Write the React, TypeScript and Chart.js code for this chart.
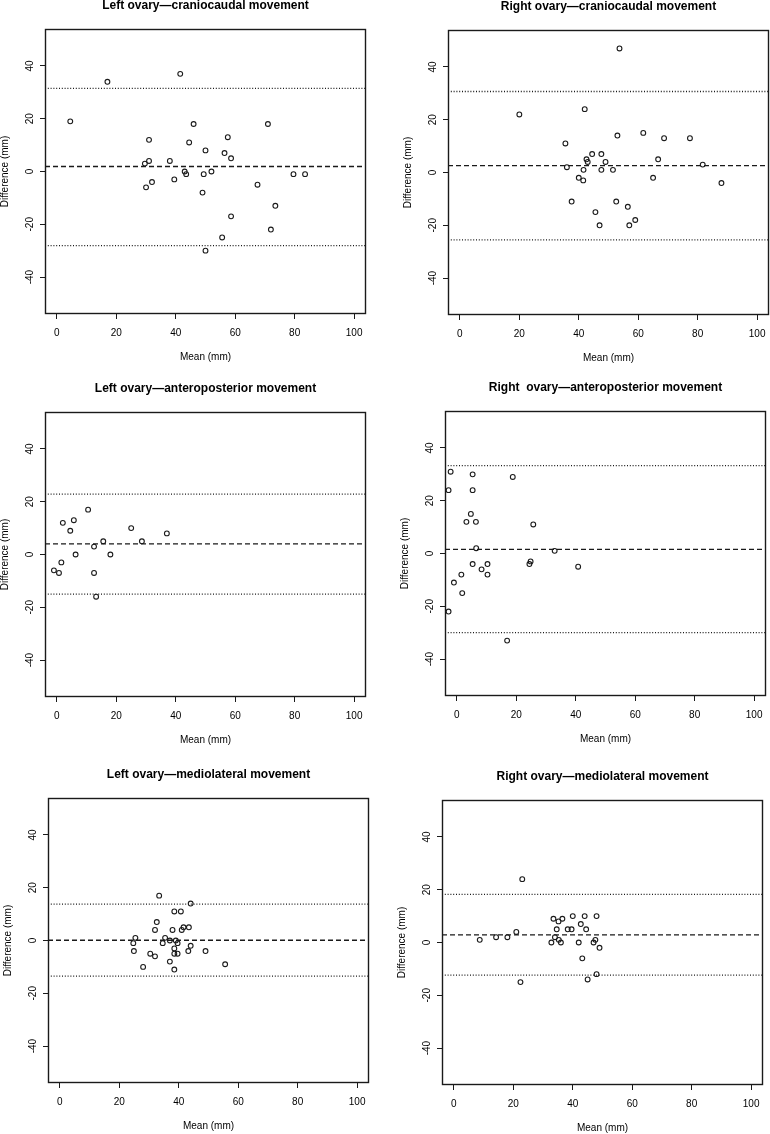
import React, { useEffect, useRef } from "react";
import { Chart, registerables } from "chart.js";

Chart.register(...registerables);

// ---- axis ranges / ticks ----
const X_MIN = -4;
const X_MAX = 104;
const Y_MIN = -54;
const Y_MAX = 54;
const X_STEP = 20;
const Y_STEP = 20;

// ---- Left ovary, craniocaudal ----
const lccMean = [4.5, 17, 41.5, 46, 71, 31, 44.5, 57.5, 50, 56.4, 58.6, 31, 29.6, 38, 43, 43.5, 49.4, 52, 30, 32, 39.5, 49, 67.5, 79.6, 83.5, 73.5, 58.6, 72, 55.6, 50];
const lccDiff = [19, 34, 37, 18, 18, 12, 11, 13, 8, 7, 5, 4, 3, 4, 0, -1, -1, 0, -6, -4, -3, -8, -5, -1, -1, -13, -17, -22, -25, -30];
const lccLimits = [31.5, 1.9, -28.1]; // upper, bias, lower

// ---- Right ovary, craniocaudal ----
const rccMean = [53.7, 20, 42, 35.5, 53, 61.7, 68.7, 77.4, 44.5, 47.6, 42.6, 43, 49, 66.7, 81.7, 36, 41.6, 47.6, 51.5, 40, 41.5, 65, 88, 37.6, 52.6, 56.5, 45.6, 59, 47, 57];
const rccDiff = [47, 22, 24, 11, 14, 15, 13, 13, 7, 7, 5, 4, 4, 5, 3, 2, 1, 1, 1, -2, -3, -2, -4, -11, -11, -13, -15, -18, -20, -20];
const rccLimits = [30.7, 2.6, -25.5];

// ---- Left ovary, anteroposterior ----
const lapMean = [-1, 0.7, 1.5, 2, 4.5, 5.7, 6.3, 10.5, 12.5, 12.5, 13.2, 15.6, 18, 25, 28.6, 37];
const lapDiff = [-6, -7, -3, 12, 9, 13, 0, 17, 3, -7, -16, 5, 0, 10, 5, 8];
const lapLimits = [22.9, 4.0, -15.0];

// ---- Right ovary, anteroposterior ----
const rapMean = [-2.1, -2.8, 5.3, 5.3, 18.8, 4.7, 3.2, 6.4, 25.7, 6.5, 32.9, 5.3, 10.3, 8.3, 10.3, 1.5, -1, 1.8, -2.8, 24.4, 24.8, 40.8, 16.9];
const rapDiff = [31, 24, 30, 24, 29, 15, 12, 12, 11, 2, 1, -4, -4, -6, -8, -8, -11, -15, -22, -4, -3, -5, -33];
const rapLimits = [33.3, 1.6, -30.0];

// ---- Left ovary, mediolateral ----
const lmlMean = [33.4, 44, 38.5, 40.7, 32.6, 32, 37.9, 41, 41.6, 43.4, 25.4, 35.4, 37, 39, 24.7, 34.6, 39.6, 44, 24.9, 38.5, 43.2, 49, 30.4, 38.5, 39.6, 32, 37, 28, 38.5, 55.6];
const lmlDiff = [17, 14, 11, 11, 7, 4, 4, 4, 5, 5, 1, 1, 0, 0, -1, -1, -1, -2, -4, -3, -4, -4, -5, -5, -5, -6, -8, -10, -11, -9];
const lmlLimits = [13.8, 0.1, -13.5];

// ---- Right ovary, mediolateral ----
const rmlMean = [23, 8.7, 14.2, 18, 21, 22.4, 33.5, 36.5, 35.2, 40, 44, 48, 42.7, 34.6, 38.3, 39.6, 44.5, 34, 35.3, 32.8, 36, 42, 47, 47.6, 49, 43.2, 48, 45];
const rmlDiff = [24, 1, 2, 2, 4, -15, 9, 9, 8, 10, 10, 10, 7, 5, 5, 5, 5, 2, 1, 0, 0, 0, 0, 1, -2, -6, -12, -14];
const rmlLimits = [18.2, 2.9, -12.4];

const titles = [
  "Left ovary\u2014craniocaudal movement",
  "Right ovary\u2014craniocaudal movement",
  "Left ovary\u2014anteroposterior movement",
  "Right  ovary\u2014anteroposterior movement",
  "Left ovary\u2014mediolateral movement",
  "Right ovary\u2014mediolateral movement",
];

const X_TITLE = "Mean (mm)";
const Y_TITLE = "Difference (mm)";

const FONT = "'Liberation Sans', Arial, Helvetica, sans-serif";
const INK = "#1a1a1a";

const CANVAS_W = 380;
const CANVAS_H = 380;

type PanelDef = {
  title: string;
  means: number[];
  diffs: number[];
  limits: number[];
  left: number;
  top: number;
};

const panels: PanelDef[] = [
  { title: titles[0], means: lccMean, diffs: lccDiff, limits: lccLimits, left: -5, top: -11 },
  { title: titles[1], means: rccMean, diffs: rccDiff, limits: rccLimits, left: 398, top: -10 },
  { title: titles[2], means: lapMean, diffs: lapDiff, limits: lapLimits, left: -5, top: 372 },
  { title: titles[3], means: rapMean, diffs: rapDiff, limits: rapLimits, left: 395, top: 371 },
  { title: titles[4], means: lmlMean, diffs: lmlDiff, limits: lmlLimits, left: -2, top: 758 },
  { title: titles[5], means: rmlMean, diffs: rmlDiff, limits: rmlLimits, left: 392, top: 760 },
];

const boxPlugin = {
  id: "plotBox",
  afterDatasetsDraw(chart: any) {
    const { ctx, chartArea: a } = chart;
    ctx.save();
    ctx.strokeStyle = INK;
    ctx.lineWidth = 1.4;
    ctx.strokeRect(a.left + 0.5, a.top + 0.5, a.right - a.left - 1, a.bottom - a.top - 1);
    ctx.restore();
  },
};

function hLine(v: number, dash: number[]) {
  return {
    type: "line" as const,
    data: [
      { x: X_MIN, y: v },
      { x: X_MAX, y: v },
    ],
    showLine: true,
    borderColor: INK,
    borderWidth: 1.3,
    borderDash: dash,
    pointRadius: 0,
    fill: false,
  };
}

function Panel({ def }: { def: PanelDef }) {
  const ref = useRef<HTMLCanvasElement | null>(null);
  useEffect(() => {
    if (!ref.current) return;
    const pts = def.means.map((m, i) => ({ x: m, y: def.diffs[i] }));
    const [upper, bias, lower] = def.limits;
    const tickFont = { family: FONT, size: 10 };
    const chart = new Chart(ref.current, {
      type: "scatter",
      data: {
        datasets: [
          hLine(upper, [1, 1.8]) as any,
          hLine(bias, [5, 3]) as any,
          hLine(lower, [1, 1.8]) as any,
          {
            type: "scatter",
            data: pts,
            pointStyle: "circle",
            pointRadius: 2.4,
            pointBorderWidth: 1.1,
            pointBackgroundColor: "rgba(0,0,0,0)",
            pointBorderColor: INK,
            borderColor: INK,
            backgroundColor: "rgba(0,0,0,0)",
          } as any,
        ],
      },
      options: {
        responsive: false,
        animation: false,
        events: [],
        layout: { padding: { top: 9, left: 0, right: 9, bottom: 0 } },
        plugins: {
          legend: { display: false },
          tooltip: { enabled: false },
          title: {
            display: true,
            text: def.title,
            fullSize: false,
            color: "#000",
            font: { family: FONT, size: 12, weight: "bold", lineHeight: 1.25 },
            padding: { top: 0, bottom: 16 },
          },
        },
        scales: {
          x: {
            type: "linear",
            min: X_MIN,
            max: X_MAX,
            afterFit: (s: any) => {
              s.height = 55;
            },
            ticks: {
              stepSize: X_STEP,
              includeBounds: false,
              maxRotation: 0,
              padding: 8,
              color: "#000",
              font: tickFont,
            },
            grid: {
              drawOnChartArea: false,
              drawTicks: true,
              tickLength: 5,
              color: INK,
              lineWidth: 1,
            },
            border: { display: false },
            title: {
              display: true,
              text: X_TITLE,
              color: "#000",
              font: tickFont,
              padding: { top: 0, bottom: 6 },
            },
          },
          y: {
            type: "linear",
            min: Y_MIN,
            max: Y_MAX,
            afterFit: (s: any) => {
              s.width = 50;
            },
            ticks: {
              stepSize: Y_STEP,
              includeBounds: false,
              minRotation: 90,
              maxRotation: 90,
              crossAlign: "center",
              padding: 3,
              color: "#000",
              font: tickFont,
            },
            grid: {
              drawOnChartArea: false,
              drawTicks: true,
              tickLength: 5,
              color: INK,
              lineWidth: 1,
            },
            border: { display: false },
            title: {
              display: true,
              text: Y_TITLE,
              color: "#000",
              font: tickFont,
              padding: { top: 4, bottom: 0 },
            },
          },
        },
      } as any,
      plugins: [boxPlugin],
    });
    return () => chart.destroy();
  }, [def]);

  return (
    <canvas
      ref={ref}
      width={CANVAS_W}
      height={CANVAS_H}
      style={{
        position: "absolute",
        left: def.left,
        top: def.top,
        width: CANVAS_W,
        height: CANVAS_H,
      }}
    />
  );
}

export default function App() {
  return (
    <div
      style={{
        position: "absolute",
        left: 0,
        top: 0,
        width: 770,
        height: 1134,
        overflow: "hidden",
        background: "#fff",
      }}
    >
      {panels.map((p, i) => (
        <Panel key={i} def={p} />
      ))}
    </div>
  );
}
